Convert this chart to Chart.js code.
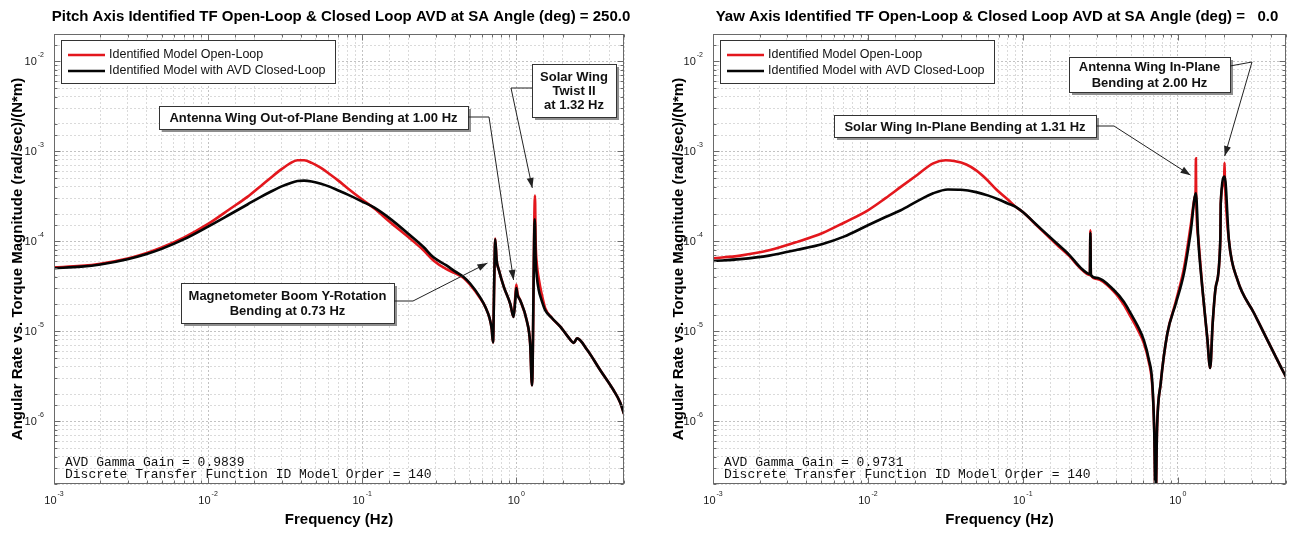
<!DOCTYPE html>
<html>
<head>
<meta charset="utf-8">
<title>Identified TF Open-Loop &amp; Closed Loop AVD</title>
<script src="https://cdn.jsdelivr.net/npm/chart.js@4.4.1/dist/chart.umd.min.js"></script>
<style>
  html, body { margin: 0; padding: 0; background: #fff; }
  body { position: relative; width: 1290px; height: 533px; overflow: hidden; }
  canvas { position: absolute; top: 0; }
  #pitchChart { left: 0; }
  #yawChart { left: 645px; }
</style>
</head>
<body>
<canvas id="pitchChart" width="645" height="533"></canvas>
<canvas id="yawChart" width="645" height="533"></canvas>
<script>
// Pitch axis, SA angle 250 deg
var pitchOpenHz = [0.001, 0.0015, 0.002, 0.003, 0.004, 0.005, 0.007, 0.01, 0.014, 0.018, 0.022, 0.026, 0.03, 0.034, 0.038, 0.042, 0.047, 0.054, 0.062, 0.07, 0.08, 0.1, 0.12, 0.15, 0.2, 0.25, 0.29, 0.35, 0.4, 0.455, 0.5, 0.58, 0.63, 0.67, 0.693, 0.706, 0.72, 0.73, 0.745, 0.77, 0.83, 0.914, 0.96, 0.985, 1.0, 1.02, 1.06, 1.17, 1.23, 1.265, 1.322, 1.335, 1.36, 1.4, 1.46, 1.54, 1.7, 1.93, 2.15, 2.36, 2.48, 2.88, 3.5, 4.28, 4.73, 5.0];
var pitchOpenMag = [5.1e-5, 5.3e-5, 5.6e-5, 6.4e-5, 7.4e-5, 8.5e-5, 1.1e-4, 1.55e-4, 2.3e-4, 3.1e-4, 4.1e-4, 5.2e-4, 6.3e-4, 7.3e-4, 7.9e-4, 7.9e-4, 7.4e-4, 6.5e-4, 5.5e-4, 4.7e-4, 3.9e-4, 2.9e-4, 2.3e-4, 1.65e-4, 1.1e-4, 7.9e-5, 6.1e-5, 4.9e-5, 4.4e-5, 3.9e-5, 3.3e-5, 2.35e-5, 1.85e-5, 1.4e-5, 1.05e-5, 7.5e-6, 4.0e-5, 1.07e-4, 6.2e-5, 4.8e-5, 3.1e-5, 2.0e-5, 1.44e-5, 2.4e-5, 3.3e-5, 2.6e-5, 2.2e-5, 1.3e-5, 7.3e-6, 2.5e-6, 3.2e-4, 1.0e-4, 5.5e-5, 3.8e-5, 2.6e-5, 1.8e-5, 1.4e-5, 1.12e-5, 8.8e-6, 7.4e-6, 8.3e-6, 6.2e-6, 3.7e-6, 2.2e-6, 1.6e-6, 1.2e-6];
var pitchClosedHz = [0.001, 0.0015, 0.002, 0.003, 0.004, 0.005, 0.007, 0.01, 0.014, 0.018, 0.022, 0.026, 0.03, 0.034, 0.038, 0.042, 0.047, 0.054, 0.062, 0.07, 0.08, 0.1, 0.12, 0.15, 0.2, 0.25, 0.29, 0.35, 0.4, 0.455, 0.5, 0.58, 0.63, 0.67, 0.693, 0.706, 0.72, 0.73, 0.745, 0.77, 0.83, 0.914, 0.96, 0.985, 1.0, 1.02, 1.06, 1.17, 1.23, 1.265, 1.318, 1.335, 1.36, 1.396, 1.46, 1.54, 1.7, 1.93, 2.15, 2.36, 2.48, 2.88, 3.5, 4.28, 4.73, 5.0];
var pitchClosedMag = [5.0e-5, 5.2e-5, 5.5e-5, 6.3e-5, 7.2e-5, 8.2e-5, 1.05e-4, 1.45e-4, 2.0e-4, 2.55e-4, 3.1e-4, 3.6e-4, 4.05e-4, 4.4e-4, 4.65e-4, 4.7e-4, 4.6e-4, 4.35e-4, 4.0e-4, 3.65e-4, 3.3e-4, 2.75e-4, 2.35e-4, 1.8e-4, 1.2e-4, 8.6e-5, 6.6e-5, 5.4e-5, 4.6e-5, 4.0e-5, 3.4e-5, 2.4e-5, 1.85e-5, 1.4e-5, 1.05e-5, 7.5e-6, 4.0e-5, 1.05e-4, 6.2e-5, 4.8e-5, 3.1e-5, 2.0e-5, 1.44e-5, 2.2e-5, 3.0e-5, 2.5e-5, 2.2e-5, 1.3e-5, 7.3e-6, 2.5e-6, 1.75e-4, 6.5e-5, 4.0e-5, 2.9e-5, 2.2e-5, 1.71e-5, 1.4e-5, 1.12e-5, 8.8e-6, 7.4e-6, 8.3e-6, 6.2e-6, 3.7e-6, 2.2e-6, 1.6e-6, 1.2e-6];

// Yaw axis, SA angle 0 deg
var yawOpenHz = [0.001, 0.0015, 0.0023, 0.0035, 0.0051, 0.007, 0.01, 0.013, 0.0163, 0.021, 0.0264, 0.0318, 0.036, 0.0432, 0.05, 0.058, 0.068, 0.08, 0.09, 0.1, 0.1226, 0.166, 0.2, 0.235, 0.271, 0.273, 0.275, 0.3, 0.387, 0.45, 0.496, 0.55, 0.605, 0.65, 0.686, 0.705, 0.72, 0.735, 0.776, 0.857, 0.97, 1.097, 1.21, 1.29, 1.305, 1.31, 1.315, 1.36, 1.44, 1.55, 1.62, 1.68, 1.76, 1.885, 1.895, 1.995, 2.005, 2.015, 2.14, 2.43, 3.11, 3.8, 4.86, 5.0];
var yawOpenMag = [6.45e-5, 6.9e-5, 7.9e-5, 9.8e-5, 1.23e-4, 1.6e-4, 2.2e-4, 3.0e-4, 4.0e-4, 5.5e-4, 7.3e-4, 7.9e-4, 7.75e-4, 7.1e-4, 6.1e-4, 4.9e-4, 3.7e-4, 2.9e-4, 2.4e-4, 2.1e-4, 1.5e-4, 9.1e-5, 6.8e-5, 5.0e-5, 4.2e-5, 1.32e-4, 4.2e-5, 3.8e-5, 2.75e-5, 1.95e-5, 1.45e-5, 1.05e-5, 7.3e-6, 4.6e-6, 2.4e-6, 8.0e-7, 1.2e-7, 8.0e-7, 2.6e-6, 9.4e-6, 2.1e-5, 5.0e-5, 1.45e-4, 3.1e-4, 3.7e-4, 8.3e-4, 3.4e-4, 1.05e-4, 3.1e-5, 8.5e-6, 3.9e-6, 1.2e-5, 3.1e-5, 1.07e-4, 2.6e-4, 5.1e-4, 7.4e-4, 5.0e-4, 1.02e-4, 3.7e-5, 1.58e-5, 7.9e-6, 3.4e-6, 3.1e-6];
var yawClosedHz = [0.001, 0.0015, 0.0023, 0.0035, 0.0051, 0.007, 0.01, 0.013, 0.0163, 0.021, 0.0264, 0.0328, 0.04, 0.05, 0.06, 0.07, 0.08, 0.09, 0.1, 0.1226, 0.166, 0.2, 0.235, 0.271, 0.273, 0.275, 0.3, 0.387, 0.45, 0.496, 0.55, 0.605, 0.65, 0.686, 0.705, 0.72, 0.735, 0.776, 0.857, 0.97, 1.097, 1.21, 1.31, 1.36, 1.44, 1.55, 1.62, 1.68, 1.76, 1.885, 1.895, 2.01, 2.14, 2.43, 3.11, 3.8, 4.86, 5.0];
var yawClosedMag = [6.0e-5, 6.3e-5, 6.9e-5, 8.0e-5, 9.3e-5, 1.12e-4, 1.5e-4, 1.85e-4, 2.2e-4, 2.8e-4, 3.4e-4, 3.75e-4, 3.72e-4, 3.5e-4, 3.2e-4, 2.9e-4, 2.62e-4, 2.4e-4, 2.1e-4, 1.52e-4, 9.4e-5, 7.0e-5, 5.1e-5, 4.3e-5, 1.24e-4, 4.2e-5, 3.9e-5, 2.86e-5, 2.1e-5, 1.58e-5, 1.15e-5, 7.9e-6, 4.9e-6, 2.6e-6, 8.0e-7, 1.2e-7, 8.0e-7, 2.6e-6, 9.4e-6, 2.0e-5, 4.4e-5, 1.23e-4, 3.4e-4, 9.7e-5, 3.1e-5, 8.5e-6, 3.9e-6, 1.2e-5, 3.1e-5, 1.07e-4, 2.6e-4, 5.2e-4, 1.02e-4, 3.7e-5, 1.58e-5, 7.9e-6, 3.4e-6, 3.1e-6];

var seriesLabels = ['Identified Model Open-Loop', 'Identified Model with AVD Closed-Loop'];
var seriesColors = ['#e3171d', '#050505'];
var xTickExps = [-3, -2, -1, 0];
var yTickExps = [-2, -3, -4, -5, -6];

var SANS = '"Liberation Sans", Arial, Helvetica, sans-serif';
var MONO = '"Liberation Mono", "Courier New", monospace';

var panels = {
  pitchChart: {
    title: 'Pitch Axis Identified TF Open-Loop & Closed Loop AVD at SA Angle (deg) = 250.0',
    titleX: 341,
    openHz: pitchOpenHz, openMag: pitchOpenMag,
    closedHz: pitchClosedHz, closedMag: pitchClosedMag,
    axisLeft: 54, axisRight: 624, yTitlePad: 9,
    notes: ['AVD Gamma Gain = 0.9839', 'Discrete Transfer Function ID Model Order = 140'],
    callouts: [
      { lines: ['Antenna Wing Out-of-Plane Bending at 1.00 Hz'], box: [159, 106, 309, 23], gap: 14,
        path: [[468, 117], [489, 117]], tip: [0.96, 3.7e-5] },
      { lines: ['Solar Wing', 'Twist II', 'at 1.32 Hz'], box: [532, 64, 84, 53], gap: 14,
        path: [[532, 88], [511, 88]], tip: [1.27, 3.9e-4] },
      { lines: ['Magnetometer Boom Y-Rotation', 'Bending at 0.73 Hz'], box: [181, 283, 213, 40], gap: 15,
        path: [[394, 301], [413, 301]], tip: [0.65, 5.7e-5] }
    ]
  },
  yawChart: {
    title: 'Yaw Axis Identified TF Open-Loop & Closed Loop AVD at SA Angle (deg) =   0.0',
    titleX: 352,
    openHz: yawOpenHz, openMag: yawOpenMag,
    closedHz: yawClosedHz, closedMag: yawClosedMag,
    axisLeft: 68, axisRight: 641, yTitlePad: 25,
    notes: ['AVD Gamma Gain = 0.9731', 'Discrete Transfer Function ID Model Order = 140'],
    callouts: [
      { lines: ['Solar Wing In-Plane Bending at 1.31 Hz'], box: [189, 115, 262, 22], gap: 14,
        path: [[451, 126], [469, 126]], tip: [1.21, 5.4e-4] },
      { lines: ['Antenna Wing In-Plane', 'Bending at 2.00 Hz'], box: [424, 57, 161, 35], gap: 16,
        path: [[585, 66], [607, 62]], tip: [2.01, 8.8e-4] }
    ]
  }
};

document.addEventListener('DOMContentLoaded', function () {
  Object.keys(panels).forEach(function (id) {
    makeChart(id, panels[id]);
  });
});

function isDecade(value) {
  var e = Math.log10(value);
  return Math.abs(e - Math.round(e)) < 1e-9;
}

function toPoints(hz, mag) {
  return hz.map(function (f, i) {
    return { x: f, y: mag[i] };
  });
}

function drawPower(ctx, exp, x, y, align) {
  var base = '10';
  var sup = String(exp);
  ctx.font = '11px ' + SANS;
  var wb = ctx.measureText(base).width;
  ctx.font = '7px ' + SANS;
  var we = ctx.measureText(sup).width;
  var left = align === 'center' ? x - (wb + we + 1) / 2 : x - wb - we - 1;
  ctx.textAlign = 'left';
  ctx.textBaseline = 'middle';
  ctx.font = '11px ' + SANS;
  ctx.fillText(base, left, y);
  ctx.font = '7px ' + SANS;
  ctx.fillText(sup, left + wb + 1, y - 7);
}

function drawCallout(ctx, xs, ys, c) {
  var b = c.box;
  ctx.fillStyle = '#8e8e8e';
  ctx.fillRect(b[0] + 3, b[1] + 3, b[2], b[3]);
  ctx.fillStyle = '#fff';
  ctx.fillRect(b[0], b[1], b[2], b[3]);
  ctx.strokeStyle = '#333';
  ctx.lineWidth = 1;
  ctx.strokeRect(b[0] + 0.5, b[1] + 0.5, b[2], b[3]);

  ctx.fillStyle = '#111';
  ctx.font = 'bold 13px ' + SANS;
  ctx.textAlign = 'center';
  ctx.textBaseline = 'middle';
  var cy = b[1] + b[3] / 2 - (c.lines.length - 1) * c.gap / 2 + 1;
  c.lines.forEach(function (t, i) {
    ctx.fillText(t, b[0] + b[2] / 2, cy + i * c.gap);
  });

  var tip = [xs.getPixelForValue(c.tip[0]), ys.getPixelForValue(c.tip[1])];
  var pts = c.path.concat([tip]);
  ctx.strokeStyle = '#222';
  ctx.beginPath();
  ctx.moveTo(pts[0][0], pts[0][1]);
  for (var i = 1; i < pts.length; i++) {
    ctx.lineTo(pts[i][0], pts[i][1]);
  }
  ctx.stroke();

  var from = pts[pts.length - 2];
  var ang = Math.atan2(tip[1] - from[1], tip[0] - from[0]);
  var len = 10, half = 3.5;
  var ca = Math.cos(ang), sa = Math.sin(ang);
  ctx.fillStyle = '#222';
  ctx.beginPath();
  ctx.moveTo(tip[0], tip[1]);
  ctx.lineTo(tip[0] - len * ca + half * sa, tip[1] - len * sa - half * ca);
  ctx.lineTo(tip[0] - len * ca - half * sa, tip[1] - len * sa + half * ca);
  ctx.closePath();
  ctx.fill();
}

// box, inside ticks, power-of-ten labels, legend and text boxes drawn over the chart
var matlabAxes = {
  id: 'matlabAxes',
  afterDraw: function (chart) {
    var panel = panels[chart.canvas.id];
    var ctx = chart.ctx;
    var area = chart.chartArea;
    var xs = chart.scales.x;
    var ys = chart.scales.y;
    var L = Math.round(area.left) + 0.5, R = Math.round(area.right) - 0.5;
    var T = Math.round(area.top) + 0.5, B = Math.round(area.bottom) - 0.5;

    ctx.save();
    ctx.strokeStyle = '#6a6a6a';
    ctx.lineWidth = 1;
    ctx.beginPath();
    xs.ticks.forEach(function (tick) {
      var px = Math.round(xs.getPixelForValue(tick.value)) + 0.5;
      var len = isDecade(tick.value) ? 6 : 3;
      ctx.moveTo(px, B); ctx.lineTo(px, B - len);
      ctx.moveTo(px, T); ctx.lineTo(px, T + len);
    });
    ys.ticks.forEach(function (tick) {
      var py = Math.round(ys.getPixelForValue(tick.value)) + 0.5;
      var len = isDecade(tick.value) ? 6 : 3;
      ctx.moveTo(L, py); ctx.lineTo(L + len, py);
      ctx.moveTo(R, py); ctx.lineTo(R - len, py);
    });
    ctx.stroke();
    ctx.strokeRect(L, T, R - L, B - T);

    ctx.fillStyle = '#1a1a1a';
    xTickExps.forEach(function (e) {
      drawPower(ctx, e, xs.getPixelForValue(Math.pow(10, e)), area.bottom + 17, 'center');
    });
    yTickExps.forEach(function (e) {
      drawPower(ctx, e, area.left - 10, ys.getPixelForValue(Math.pow(10, e)) + 1, 'right');
    });

    ctx.fillStyle = '#000';
    ctx.font = 'bold 15px ' + SANS;
    ctx.textAlign = 'center';
    ctx.textBaseline = 'middle';
    ctx.fillText(panel.title, panel.titleX, 17);

    // legend
    var bx = area.left + 7, by = 40, bw = 274, bh = 43;
    ctx.fillStyle = '#fff';
    ctx.fillRect(bx, by, bw, bh);
    ctx.strokeStyle = '#333';
    ctx.lineWidth = 1;
    ctx.strokeRect(bx + 0.5, by + 0.5, bw, bh);
    chart.data.datasets.forEach(function (ds, i) {
      var ly = by + 15 + i * 16;
      ctx.strokeStyle = ds.borderColor;
      ctx.lineWidth = 2.5;
      ctx.beginPath();
      ctx.moveTo(bx + 7, ly);
      ctx.lineTo(bx + 44, ly);
      ctx.stroke();
      ctx.fillStyle = '#111';
      ctx.font = '12.5px ' + SANS;
      ctx.textAlign = 'left';
      ctx.fillText(ds.label, bx + 48, ly);
    });

    ctx.fillStyle = '#111';
    ctx.font = '13px ' + MONO;
    ctx.textAlign = 'left';
    panel.notes.forEach(function (t, i) {
      ctx.fillText(t, area.left + 11, 463 + i * 12);
    });

    panel.callouts.forEach(function (c) {
      drawCallout(ctx, xs, ys, c);
    });
    ctx.restore();
  }
};

function makeChart(id, panel) {
  var canvas = document.getElementById(id);
  var gridColor = function (context) {
    return context.tick && isDecade(context.tick.value) ? '#c2c2c2' : '#dadada';
  };

  return new Chart(canvas, {
    type: 'line',
    data: {
      datasets: [{
        label: seriesLabels[0],
        data: toPoints(panel.openHz, panel.openMag),
        borderColor: seriesColors[0],
        order: 2
      }, {
        label: seriesLabels[1],
        data: toPoints(panel.closedHz, panel.closedMag),
        borderColor: seriesColors[1],
        order: 1
      }]
    },
    options: {
      responsive: false,
      animation: false,
      devicePixelRatio: 1,
      layout: { padding: { left: 0, right: 645 - panel.axisRight, top: 34, bottom: 0 } },
      elements: {
        point: { radius: 0 },
        line: { borderWidth: 2.6, cubicInterpolationMode: 'monotone', fill: false }
      },
      plugins: {
        legend: { display: false },
        tooltip: { enabled: false }
      },
      scales: {
        x: {
          type: 'logarithmic',
          min: 0.001,
          max: 5,
          ticks: { display: false },
          grid: { color: gridColor, drawTicks: false },
          border: { display: false, dash: [2, 2] },
          title: {
            display: true,
            text: 'Frequency (Hz)',
            color: '#000',
            font: { family: SANS, size: 15, weight: 'bold' },
            padding: { top: 0, bottom: 4 }
          },
          afterFit: function (scale) { scale.height = 49; }
        },
        y: {
          type: 'logarithmic',
          min: 2e-7,
          max: 2e-2,
          ticks: { display: false },
          grid: { color: gridColor, drawTicks: false },
          border: { display: false, dash: [2, 2] },
          title: {
            display: true,
            text: 'Angular Rate vs. Torque Magnitude (rad/sec)/(N*m)',
            color: '#000',
            font: { family: SANS, size: 15, weight: 'bold' },
            padding: { top: panel.yTitlePad, bottom: 0 }
          },
          afterFit: function (scale) { scale.width = panel.axisLeft; }
        }
      }
    },
    plugins: [matlabAxes]
  });
}
</script>
</body>
</html>
